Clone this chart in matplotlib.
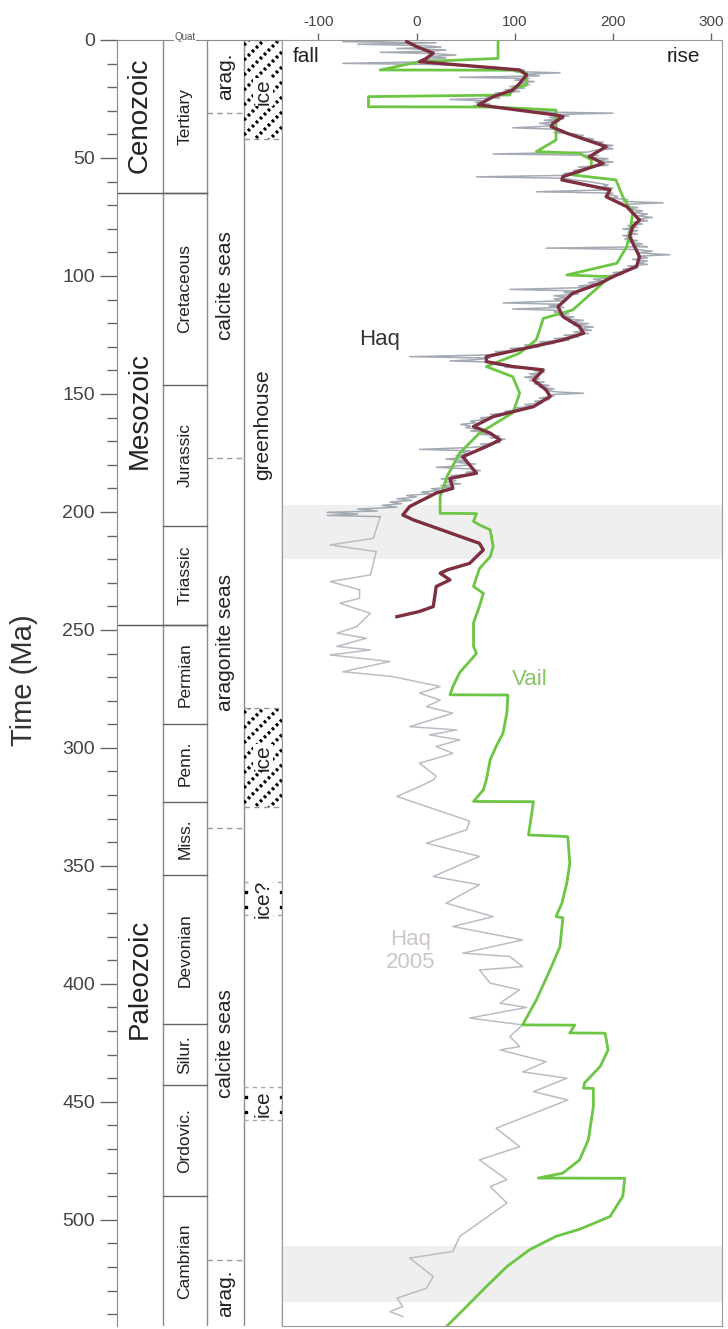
import matplotlib
matplotlib.use('Agg')
import matplotlib.pyplot as plt
from matplotlib.patches import Rectangle
from matplotlib.ticker import MultipleLocator

plt.rcParams['font.family'] = ['Liberation Sans', 'DejaVu Sans']
plt.rcParams['axes.unicode_minus'] = False

# ---------------- data ----------------
# Vail curve (age Ma, sea level m)
vail_age = [0, 7.8, 9.2, 12.7, 12.8, 14.1, 19.1, 20.5, 23.3, 24.0, 28.3, 28.4, 29.7, 42.4, 47.3, 48.0,
            50.8, 53.7, 57.2, 59.3, 66.4, 73.4, 81.9, 87.6, 94.6, 99.6, 100.3, 114.4, 118, 127, 132.7,
            138.4, 142.7, 149.7, 158, 166.6, 175, 185, 193.5, 200.6, 200.7, 204, 205.5, 207.6, 214.7,
            219, 224, 231.6, 234.5, 240, 247, 257, 260, 268, 274, 277.5, 277.6, 285, 293.8, 299.4,
            305, 313.6, 317.8, 322.7, 322.8, 336.9, 337.6, 348.9, 357.3, 365.8, 371.5, 372, 384.2,
            394, 406.8, 417.4, 417.5, 420.8, 420.9, 428, 435, 442, 444.2, 444.3, 452, 466, 474.6,
            480.2, 482.3, 482.4, 490, 498.6, 504, 507, 512.7, 519.8, 528.3, 536.7, 545]
vail_val = [83, 83, 3, -37, 98, 112, 112, 98, 95, -49, -49, 78, 142, 142, 122, 166,
            178, 178, 159, 203, 210, 220, 217, 214, 204, 153, 197, 159, 129, 122, 105,
            71, 98, 105, 98, 64, 44, 31, 24, 24, 61, 58, 64, 75, 78,
            75, 64, 58, 68, 64, 58, 58, 61, 44, 37, 34, 93, 92, 88, 81,
            75, 71, 68, 58, 119, 114, 154, 156, 153, 148, 142, 149, 146,
            136, 122, 108, 161, 156, 192, 195, 187, 171, 170, 180, 180, 175, 166,
            149, 124, 212, 210, 197, 166, 142, 115, 92, 71, 51, 31]

# Haq long-term curve
haq_age = [0.7, 2.8, 5.6, 7.8, 9.2, 12.7, 14.8, 18.4, 21.2, 24, 27.5, 31.8, 32.5, 35.3, 36.7, 39.5,
           45.2, 49.4, 52.3, 57.9, 59.3, 63.5, 66.4, 70.6, 76.3, 79.1, 83.3, 87.6, 91.8, 96, 100.3,
           103.1, 107.3, 113, 117.2, 121.5, 124.3, 127.1, 129.9, 134.2, 136.3, 138.4, 139.8, 144.1,
           148.3, 151.1, 155.4, 159.6, 163.8, 166.6, 169.5, 172.3, 176.6, 183.6, 185.8, 190, 192,
           197.7, 201.3, 203.4, 213.3, 216.1, 221.8, 224.6, 226, 228.8, 231.6, 240.1, 242.2, 244.4]
haq_val = [-10, 0, 17, 10, 3, 105, 112, 105, 98, 78, 63, 142, 149, 139, 137, 153,
           193, 176, 190, 149, 148, 197, 193, 214, 227, 220, 217, 222, 227, 224, 200,
           187, 159, 144, 149, 166, 170, 149, 119, 71, 71, 98, 129, 119,
           132, 136, 119, 78, 58, 75, 85, 71, 47, 61, 34, 37, 20,
           -7, -14, -3, 64, 68, 54, 31, 24, 34, 20, 17, 3, -20]

# Haq short-term curve (Mesozoic-Cenozoic)
haqst_age = [0, 0.7, 1.2, 1.8, 2.4, 3.0, 3.6, 4.2, 4.8, 5.2, 5.8, 6.4, 7.0, 7.6, 8.4, 9.2, 9.9, 10.4,
             11.0, 11.6, 12.2, 12.8, 13.4, 13.9, 14.5, 15.2, 15.8, 16.3, 17.0, 17.6, 18.3, 19.0, 19.7,
             20.4, 21.1, 21.8, 22.5, 23.2, 23.9, 24.6, 25.2, 25.8, 26.5, 27.2, 27.8, 28.5, 29.2, 29.9,
             30.5, 31.0, 31.6, 32.2, 32.8, 33.4, 34.0, 34.6, 35.3, 36.0, 36.6, 37.2, 37.8, 38.5, 39.2,
             39.8, 40.5, 41.2, 41.9, 42.6, 43.3, 44.0, 44.7, 45.4, 46.1, 46.8, 47.5, 48.3, 48.9, 49.6,
             50.3, 51.0, 51.7, 52.4, 53.1, 53.8, 54.5, 55.2, 55.9, 56.6, 57.3, 58.0, 58.6, 59.3, 60.0,
             60.7, 61.4, 62.1, 62.8, 63.5, 64.3, 64.9, 65.6, 66.3, 67.0, 67.7, 68.4, 69.0, 69.6, 70.3,
             71.0, 71.7, 72.4, 73.1, 73.8, 74.5, 75.2, 75.9, 76.6, 77.3, 78.0, 78.7, 79.4, 80.1, 80.8,
             81.5, 82.2, 82.9, 83.6, 84.3, 85.0, 85.7, 86.4, 87.1, 87.6, 88.2, 88.8, 89.5, 90.2, 91.0,
             91.6, 92.3, 93.0, 93.7, 94.4, 95.1, 95.8, 96.5, 97.2, 97.9, 98.6, 99.3, 100.0, 100.7,
             101.4, 102.1, 102.8, 103.5, 104.2, 104.9, 105.7, 106.3, 107.0, 107.7, 108.4, 109.1,
             109.8, 110.5, 111.4, 112.0, 112.7, 113.3, 114.0, 114.6, 115.3, 116.0, 116.7, 117.4,
             118.1, 118.8, 119.5, 120.2, 120.9, 121.6, 122.3, 123.0, 123.7, 124.4, 125.1, 125.8,
             126.5, 127.2, 127.9, 128.6, 129.3, 130.0, 130.7, 131.4, 132.1, 132.8, 133.5, 134.2,
             134.8, 135.5, 136.0, 136.6, 137.3, 138.0, 138.7, 139.4, 140.1, 140.8, 141.5, 142.2,
             142.9, 143.6, 144.3, 145.0, 145.7, 146.4, 147.1, 147.8, 148.5, 149.2, 149.7, 150.3,
             151.0, 151.7, 152.4, 153.1, 153.8, 154.5, 155.2, 155.9, 156.6, 157.3, 158.0, 158.7,
             159.4, 160.1, 160.8, 161.5, 162.2, 162.9, 163.6, 164.3, 165.0, 165.7, 166.4, 167.1,
             167.8, 168.5, 169.2, 169.9, 170.6, 171.3, 172.0, 172.7, 173.5, 174.1, 174.8, 175.5,
             176.2, 176.9, 177.6, 178.3, 179.0, 179.7, 180.4, 181.1, 181.8, 182.5, 183.2, 183.9,
             184.6, 185.3, 186.0, 186.7, 187.4, 188.1, 188.8, 189.5, 190.2, 190.9, 191.6, 192.3,
             193.0, 193.7, 194.4, 195.1, 195.8, 196.5, 197.2, 198.0, 198.8, 199.6, 200.2, 200.9,
             201.5, 202.0]
haqst_val = [-10, -75, 20, -60, 10, 25, -20, 30, 15, -37, 20, 40, 10, 30, 5, 15, -75, 20,
             50, 80, 95, 110, 100, 146, 110, 125, 44, 115, 100, 120, 105, 115, 95,
             110, 90, 105, 80, 95, 70, 85, 34, 70, 60, 75, 58, 80, 110, 135,
             125, 200, 140, 155, 135, 150, 130, 145, 125, 140, 130, 98, 140, 150, 140,
             160, 170, 165, 180, 175, 190, 185, 200, 190, 200, 180, 175, 78, 185, 170,
             195, 185, 200, 185, 195, 165, 175, 160, 165, 150, 160, 61, 150, 160, 175,
             185, 195, 190, 200, 195, 122, 200, 195, 205, 200, 215, 210, 251, 215, 210,
             225, 215, 230, 222, 235, 225, 240, 225, 235, 220, 230, 215, 225, 210, 225,
             215, 225, 210, 220, 212, 225, 215, 230, 220, 235, 132, 225, 240, 225, 258,
             225, 235, 220, 235, 225, 235, 215, 225, 210, 215, 200, 210, 190, 200,
             180, 190, 175, 185, 165, 175, 95, 160, 150, 165, 140, 155,
             140, 150, 88, 145, 135, 150, 98, 145, 140, 155, 145, 160,
             150, 170, 155, 175, 160, 180, 165, 178, 160, 175, 150, 165,
             140, 155, 125, 140, 110, 125, 95, 105, 80, 90, 70, -7,
             75, 60, 34, 80, 75, 95, 90, 125, 120, 130, 115, 125,
             110, 125, 115, 130, 120, 135, 125, 140, 130, 145, 170, 135,
             140, 125, 135, 120, 128, 110, 120, 100, 110, 90, 95, 75,
             85, 65, 70, 55, 60, 45, 55, 50, 65, 55, 75, 65,
             85, 75, 90, 80, 85, 65, 75, 55, 3, 55, 45, 55,
             40, 50, 30, 50, 40, 60, 45, 20, 55, 65, 50, 60,
             35, 45, 25, 40, 30, 45, 25, 35, 15, 25, 5, 15,
             -10, 0, -20, -5, -27, -15, -35, -20, -60, -40, -91, -60,
             -91, -37]

# Haq 2005 (Paleozoic) curve
haq05_age = [202, 211.2, 214, 216.8, 226.7, 229.5, 233, 236.6, 238.7, 243, 248.6, 251.4, 253.5, 257,
             258.5, 260.6, 263.4, 267.7, 269.8, 274, 276.8, 279.7, 282.5, 285.3, 291, 292.4, 294.5,
             296.6, 299.4, 302.3, 306.5, 312, 313.6, 316.4, 320.6, 331, 334.7, 340.4, 346, 354.5,
             358, 365.8, 371.5, 375.7, 381.4, 387, 388.4, 392.7, 394.1, 399.7, 402.5, 408.2, 410,
             414.5, 417.4, 422.3, 426.6, 428, 433, 437.3, 440, 445.7, 449.2, 461.2, 469, 474.6,
             483, 485.9, 492.9, 507, 513.4, 516.2, 524, 529, 533.2, 536.7, 538.9, 541]
haq05_val = [-37, -44, -88, -41, -47, -88, -58, -58, -78, -47, -61, -81, -51, -81,
             -47, -88, -27, -75, -24, 24, 3, 24, 10, 37, -7, 41, 13,
             44, 20, 37, 3, 20, 17, 3, -20, 54, 51, 10, 64, 17,
             64, 30, 78, 37, 108, 47, 95, 108, 64, 75, 105, 85, 112,
             54, 108, 95, 105, 85, 132, 108, 153, 119, 154, 81, 105, 64,
             92, 75, 92, 44, 37, -7, 17, 10, -20, -14, -27, -14]

# stratigraphic columns
era_names = ['Cenozoic', 'Mesozoic', 'Paleozoic']
era_bounds = [0, 65, 248, 545]
era_label_age = [32, 157, 398]
period_names = ['Tertiary', 'Cretaceous', 'Jurassic', 'Triassic', 'Permian', 'Penn.', 'Miss.',
                'Devonian', 'Silur.', 'Ordovic.', 'Cambrian']
period_bounds = [0, 65, 146, 206, 248, 290, 323, 354, 417, 443, 490, 545]
sea_names = ['arag.', 'calcite seas', 'aragonite seas', 'calcite seas', 'arag.']
sea_bounds = [0, 31, 177, 334, 517, 545]
ice_hatched = [(0, 42), (283, 325)]
ice_dotted = [(357, 371), (443.6, 457.6)]
ice_labels = ['ice', 'ice', 'ice?', 'ice']
ice_label_age = [22, 304, 364, 450.6]
greenhouse_age = 163
shade_bands = [(197, 220), (511, 535)]
x_ticks = [-100, 0, 100, 200, 300]

# ---------------- figure ----------------
W, H = 728, 1329
fig = plt.figure(figsize=(W / 100, H / 100), dpi=100)
ytop, ybot = 40, 1326
AGE_MAX = 545
b = 1 - ybot / H
h = (ybot - ytop) / H
axc = fig.add_axes([117 / W, b, 165 / W, h])
axm = fig.add_axes([282 / W, b, 440 / W, h])

grey = '#8a8a8a'
txt = '#222222'

# column axis (x in pixel units 0..165)
axc.set_xlim(0, 165)
axc.set_ylim(AGE_MAX, 0)
for s in ['bottom', 'right']:
    axc.spines[s].set_visible(False)
for s in ['left', 'top']:
    axc.spines[s].set_color(grey)
axc.set_xticks([])
axc.yaxis.set_major_locator(MultipleLocator(50))
axc.yaxis.set_minor_locator(MultipleLocator(10))
axc.tick_params(axis='y', which='major', length=12, width=1, color='#666666', labelsize=14,
                labelcolor='#444444', pad=4)
axc.tick_params(axis='y', which='minor', length=7, width=1, color='#666666')
fig.text(24 / W, 1 - 680 / H, 'Time (Ma)', rotation=90, ha='center', va='center', fontsize=21,
         color='#333333')

ERA = (0, 46); PER = (46, 90); SEA = (90, 127); CLI = (127, 165)
for xv in [46, 90, 127, 165]:
    axc.axvline(xv, color=grey, lw=1)

for a in era_bounds[1:-1]:
    axc.plot([ERA[0], PER[1]], [a, a], color='#555555', lw=1)
for name, ya in zip(era_names, era_label_age):
    axc.text(23, ya, name, rotation=90, ha='center', va='center', fontsize=20, color=txt)

for a in period_bounds[1:-1]:
    axc.plot([PER[0], PER[1]], [a, a], color='#666666', lw=1)
for i, name in enumerate(period_names):
    ya = (period_bounds[i] + period_bounds[i + 1]) / 2
    axc.text(68, ya, name, rotation=90, ha='center', va='center', fontsize=12.5, color=txt)
axc.text(68, -1.2, 'Quat', ha='center', va='center', fontsize=7, color='#555555',
         bbox=dict(facecolor='white', edgecolor='none', pad=0.5), clip_on=False)

for a in sea_bounds[1:-1]:
    axc.plot([SEA[0], SEA[1]], [a, a], color='#999999', lw=1, ls=(0, (4, 3)))
for i, name in enumerate(sea_names):
    ya = (sea_bounds[i] + sea_bounds[i + 1]) / 2
    axc.text(108.5, ya, name, rotation=90, ha='center', va='center', fontsize=15, color=txt)

# climate column
PXMA = 2.36
for (a0, a1) in ice_hatched:
    rect = Rectangle((CLI[0], a0), CLI[1] - CLI[0], a1 - a0, facecolor='white', edgecolor='none')
    axc.add_patch(rect)
    c = CLI[0] + a0 * PXMA - 40
    while c < CLI[1] + a1 * PXMA + 40:
        xs = [CLI[0], CLI[1]]
        ys = [(c - xs[0]) / PXMA, (c - xs[1]) / PXMA]
        ln, = axc.plot(xs, ys, color='black', lw=2.4, ls=(0, (0.8, 0.9)))
        ln.set_clip_path(rect)
        c += 15
    axc.plot([CLI[0], CLI[1]], [a0, a0], color='#999999', lw=1, ls=(0, (4, 3)))
    axc.plot([CLI[0], CLI[1]], [a1, a1], color='#999999', lw=1, ls=(0, (4, 3)))
for (a0, a1) in ice_dotted:
    axc.plot([CLI[0], CLI[1]], [a0, a0], color='#aaaaaa', lw=1, ls=(0, (3, 3)))
    axc.plot([CLI[0], CLI[1]], [a1, a1], color='#aaaaaa', lw=1, ls=(0, (3, 3)))
    m1 = a0 + (a1 - a0) * 0.3
    m2 = a0 + (a1 - a0) * 0.75
    axc.plot([CLI[0] + 1.5, CLI[0] + 1.5, CLI[1] - 1.5, CLI[1] - 1.5], [m1, m2, m1, m2], 's',
             color='black', ms=1.8)
for name, ya in zip(ice_labels, ice_label_age):
    axc.text(146, ya, name, rotation=90, ha='center', va='center', fontsize=15, color=txt,
             bbox=dict(facecolor='white', edgecolor='none', pad=0.3))
axc.text(146, greenhouse_age, 'greenhouse', rotation=90, ha='center', va='center', fontsize=15,
         color=txt)

# main axis
axm.set_xlim(-137, 311)
axm.set_ylim(AGE_MAX, 0)
axm.xaxis.tick_top()
axm.set_xticks(x_ticks)
axm.set_yticks([])
axm.tick_params(axis='x', length=5, width=1, color='#666666', labelsize=11, labelcolor='#444444',
                pad=3)
for s in axm.spines.values():
    s.set_color('#999999')

for (a0, a1) in shade_bands:
    axm.axhspan(a0, a1, color='#efefef', zorder=0, lw=0)

axm.plot(haq05_val, haq05_age, color='#b9bdc4', lw=1.1, zorder=2)
axm.plot(haqst_val, haqst_age, color='#a3aab4', lw=1.1, zorder=2)
axm.plot(vail_val, vail_age, color='#6cc644', lw=2.0, zorder=3)
axm.plot(haq_val, haq_age, color='#7d2f3f', lw=2.4, zorder=4)

axm.text(-126, 7, 'fall', ha='left', va='center', fontsize=15, color=txt)
axm.text(289, 7, 'rise', ha='right', va='center', fontsize=15, color=txt)
axm.text(-58, 127, 'Haq', ha='left', va='center', fontsize=16, color='#333333')
axm.text(97, 271, 'Vail', ha='left', va='center', fontsize=16, color='#86c464')
axm.text(-6, 386, 'Haq\n2005', ha='center', va='center', fontsize=16, color='#cdc6c6',
         linespacing=1.15)

fig.savefig('out.png', dpi=100)
